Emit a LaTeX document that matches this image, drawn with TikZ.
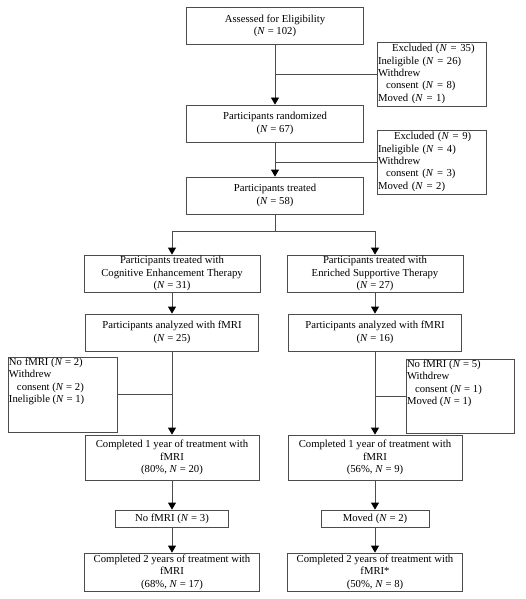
\documentclass[tikz,border=0pt]{standalone}
\usepackage{fontspec}
\setmainfont{Liberation Serif}
\usetikzlibrary{arrows.meta}
\newcommand{\Nis}[1]{\textit{N}~=~#1}
\tikzset{
  stagebox/.style={draw=black!70, line width=0.8pt, align=center, inner sep=1pt, minimum height=37pt},
  sidebox/.style={draw=black!70, line width=0.8pt, inner sep=1pt},
  flowline/.style={draw=black!70, line width=0.8pt},
  flowarrow/.style={flowline, -{Triangle[width=8pt,length=7pt,color=black]}}
}
\begin{document}
\begin{tikzpicture}[x=1pt,y=-1pt,font=\fontsize{10.7}{12.4}\selectfont]
  \useasboundingbox (0,0) rectangle (525,599);

  \node[stagebox, minimum width=177pt] (assess) at (275,26) {Assessed for Eligibility\\(\Nis{102})};
  \node[stagebox, minimum width=177pt] (rand) at (275,123.5) {Participants randomized\\(\Nis{67})};
  \node[stagebox, minimum width=177pt] (treated) at (275,195.5) {Participants treated\\(\Nis{58})};

  \node[sidebox, align=left, text width=107pt, minimum height=64pt] (excl1) at (431.5,74)
    {\hspace*{14pt}Excluded (\Nis{35})\\Ineligible (\Nis{26})\\Withdrew\\\hspace*{8pt}consent (\Nis{8})\\Moved (\Nis{1})};
  \node[sidebox, align=left, text width=107pt, minimum height=64pt] (excl2) at (431.5,162)
    {\hspace*{16pt}Excluded (\Nis{9})\\Ineligible (\Nis{4})\\Withdrew\\\hspace*{8pt}consent (\Nis{3})\\Moved (\Nis{2})};

  \node[stagebox, minimum width=176pt] (cet) at (172,273.5) {Participants treated with\\Cognitive Enhancement Therapy\\(\Nis{31})};
  \node[stagebox, minimum width=176pt] (est) at (375,273.5) {Participants treated with\\Enriched Supportive Therapy\\(\Nis{27})};

  \node[stagebox, minimum width=173pt] (ana1) at (172,332.5) {Participants analyzed with fMRI\\(\Nis{25})};
  \node[stagebox, minimum width=173pt] (ana2) at (375,332.5) {Participants analyzed with fMRI\\(\Nis{16})};

  \node[sidebox] (side1) at (62.5,394.5) {\begin{minipage}[c][73pt][t]{107pt}\raggedright
    No fMRI (\Nis{2})\\Withdrew\\\hspace*{8pt}consent (\Nis{2})\\Ineligible (\Nis{1})\end{minipage}};
  \node[sidebox] (side2) at (460,396) {\begin{minipage}[c][72pt][t]{106pt}\raggedright
    No fMRI (\Nis{5})\\Withdrew\\\hspace*{8pt}consent (\Nis{1})\\Moved (\Nis{1})\end{minipage}};

  \node[stagebox, minimum width=174pt, minimum height=45pt] (comp1a) at (172,457.5) {Completed 1 year of treatment with\\fMRI\\(80\%, \Nis{20})};
  \node[stagebox, minimum width=174pt, minimum height=45pt] (comp1b) at (375,457.5) {Completed 1 year of treatment with\\fMRI\\(56\%, \Nis{9})};

  \node[stagebox, minimum width=113pt, minimum height=17pt] (nof3) at (172,518.5) {No fMRI (\Nis{3})};
  \node[stagebox, minimum width=108pt, minimum height=17pt] (moved2) at (375,518.5) {Moved (\Nis{2})};

  \node[stagebox, minimum width=175pt, minimum height=38pt] (comp2a) at (172,572) {Completed 2 years of treatment with\\fMRI\\(68\%, \Nis{17})};
  \node[stagebox, minimum width=175pt, minimum height=38pt] (comp2b) at (375,572) {Completed 2 years of treatment with\\fMRI*\\(50\%, \Nis{8})};

  \draw[flowarrow] (assess) -- (rand);
  \draw[flowline] (excl1.west) -- (assess.south |- excl1.west);
  \draw[flowarrow] (rand) -- (treated);
  \draw[flowline] (excl2.west) -- (rand.south |- excl2.west);

  \draw[flowline] (treated.south) -- ++(0,17) coordinate (split);
  \draw[flowarrow] (split) -| (cet.north);
  \draw[flowarrow] (split) -| (est.north);

  \draw[flowarrow] (cet) -- (ana1);
  \draw[flowarrow] (est) -- (ana2);
  \draw[flowarrow] (ana1) -- (comp1a);
  \draw[flowarrow] (ana2) -- (comp1b);
  \draw[flowline] (side1.east) -- (ana1.south |- side1.east);
  \draw[flowline] (side2.west) -- (ana2.south |- side2.west);

  \draw[flowarrow] (comp1a) -- (nof3);
  \draw[flowarrow] (nof3) -- (comp2a);
  \draw[flowarrow] (comp1b) -- (moved2);
  \draw[flowarrow] (moved2) -- (comp2b);
\end{tikzpicture}
\end{document}
